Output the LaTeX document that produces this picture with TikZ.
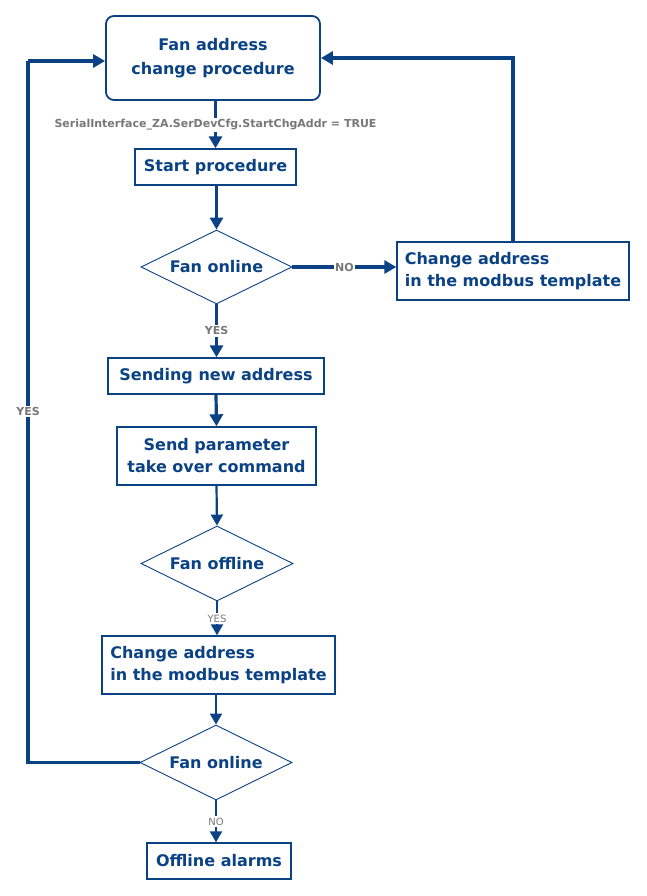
\documentclass[tikz,border=0pt]{standalone}
\usepackage{fontspec}
\setmainfont{DejaVu Sans}
\usetikzlibrary{shapes.geometric,arrows.meta}
\definecolor{fblue}{RGB}{10,66,132}
\definecolor{lgray}{RGB}{120,120,120}
\tikzset{
  every node/.style={font=\bfseries\fontsize{16}{22}\selectfont, text=fblue},
  boxnode/.style={draw=fblue, line width=1.4pt, fill=white, inner sep=0pt, align=center},
  decision/.style={diamond, draw=fblue, line width=0.9pt, fill=white, inner sep=0pt, aspect=2},
  flow/.style={draw=fblue, line width=3.2pt, -{Triangle[length=12pt,width=13pt]}},
  thinflow/.style={draw=fblue, line width=2.2pt, -{Triangle[length=11pt,width=12pt]}},
  lbl/.style={fill=white, text=lgray, inner sep=1.5pt, font=\bfseries\fontsize{11}{12}\selectfont},
  lbls/.style={fill=white, text=lgray, inner sep=1.5pt, font=\fontsize{10}{11}\selectfont},
}
\begin{document}
\begin{tikzpicture}[x=1pt,y=-1pt]
\useasboundingbox[fill=white] (0,0) rectangle (646,896);
% nodes
\node[boxnode, rounded corners=8pt, line width=1.8pt, minimum width=214pt, minimum height=84pt,
      font=\bfseries\fontsize{16}{24}\selectfont] (top) at (213,58) {Fan address\\change procedure};
\node[boxnode, minimum width=161pt, minimum height=36pt] (start) at (215.5,167) {Start procedure};
\node[decision, minimum width=151pt, minimum height=74pt] (d1) at (216.5,267) {Fan online};
\node[boxnode, minimum width=232pt, minimum height=58pt, align=left] (ch1) at (513,271) {Change address\\in the modbus template};
\node[boxnode, minimum width=216pt, minimum height=36pt] (send) at (216,376) {Sending new address};
\node[boxnode, minimum width=199pt, minimum height=58pt] (param) at (216.5,456) {Send parameter\\take over command};
\node[decision, minimum width=152pt, minimum height=75pt] (d2) at (217,563.5) {Fan offline};
\node[boxnode, minimum width=233pt, minimum height=58pt, align=left] (ch2) at (218.5,665) {Change address\\in the modbus template};
\node[decision, minimum width=152pt, minimum height=75pt] (d3) at (216,762.5) {Fan online};
\node[boxnode, minimum width=144pt, minimum height=36pt] (alarm) at (219,861) {Offline alarms};
\coordinate (L) at (28,61);
% connectors
\draw[flow] (top.south -| start.north) -- node[lbl]{SerialInterface\_ZA.SerDevCfg.StartChgAddr = TRUE} (start.north);
\draw[flow] (start.south -| d1.north) -- (d1.north);
\draw[flow] (d1.east) -- node[lbl]{NO} (ch1.west |- d1.east);
\draw[flow] (d1.south) -- node[lbl]{YES} (d1.south |- send.north);
\draw[flow] (send.south) -- (param.north);
\draw[thinflow] (param.south) -- (d2.north);
\draw[thinflow] (d2.south) -- node[lbls]{YES} (d2.south |- ch2.north);
\draw[thinflow] (ch2.south -| d3.north) -- (d3.north);
\draw[thinflow] (d3.south) -- node[lbls]{NO} (d3.south |- alarm.north);
\draw[flow] (ch1.north) |- (top.east);
\draw[draw=fblue, line width=3.4pt] (d3.west) -| node[pos=0.75, lbl]{YES} (L);
\draw[flow, line width=3.4pt] (L) -- (top.west |- L);
\end{tikzpicture}
\end{document}
